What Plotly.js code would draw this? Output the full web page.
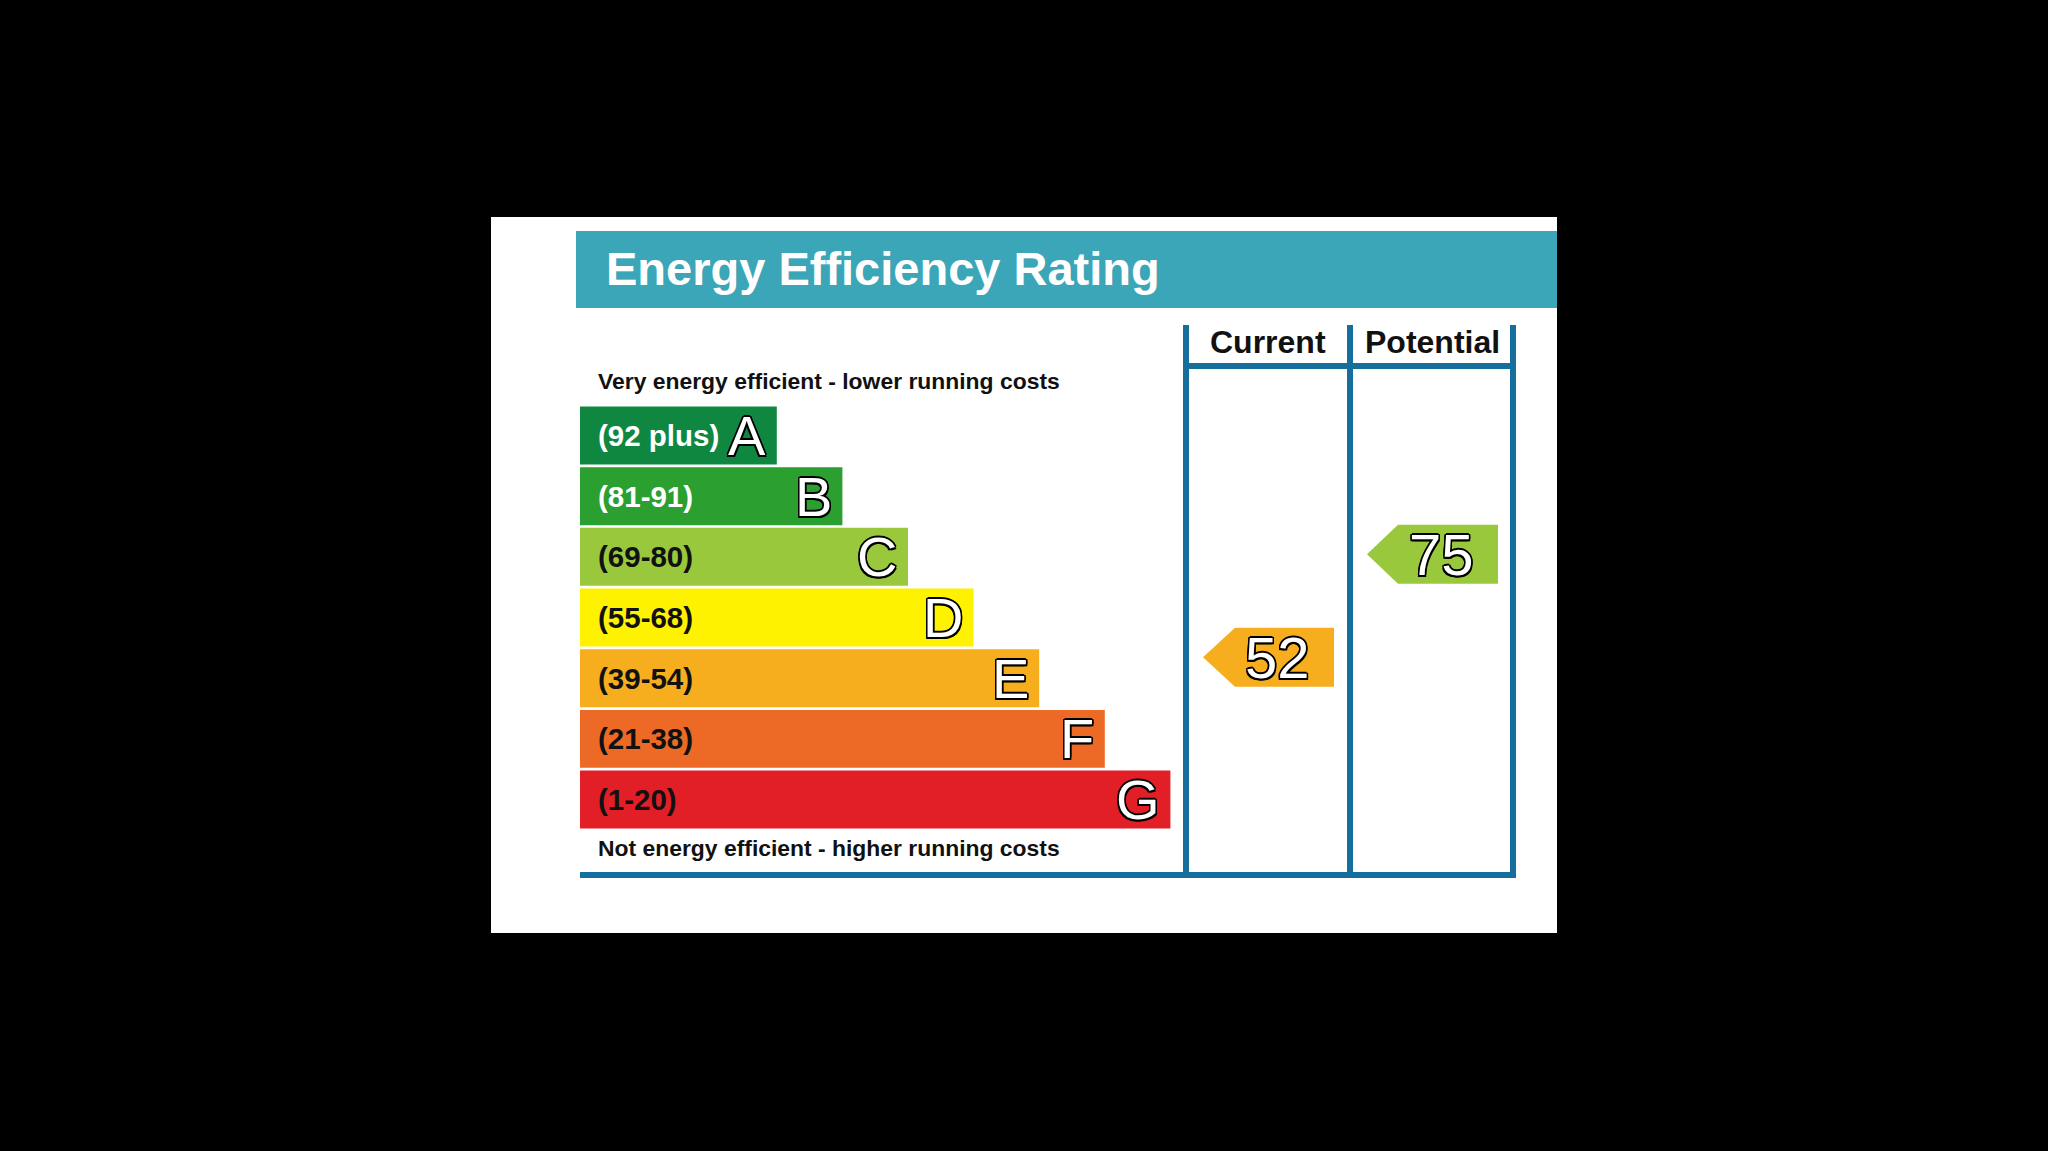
<!DOCTYPE html>
<html>
<head>
<meta charset="utf-8">
<script src="https://cdn.plot.ly/plotly-3.0.1.min.js"></script>
<style>
  html, body { margin: 0; padding: 0; background: #000; }
  #chart { width: 2048px; height: 1151px; }
</style>
</head>
<body>
<div id="chart"></div>
<script>
// ---------------- data ----------------
const categories   = ['A', 'B', 'C', 'D', 'E', 'F', 'G'];
const bandLabels   = ['(92 plus)', '(81-91)', '(69-80)', '(55-68)', '(39-54)', '(21-38)', '(1-20)'];
const bandMin      = [92, 81, 69, 55, 39, 21, 1];
const bandMax      = [100, 91, 80, 68, 54, 38, 20];
const barLength    = [3, 4, 5, 6, 7, 8, 9];
const bandColors   = ['#0f8741', '#2b9f2f', '#9ac83c', '#fff200', '#f6ae1f', '#ec6a25', '#e21e26'];
const labelColors  = ['#ffffff', '#ffffff', '#111111', '#111111', '#111111', '#111111', '#111111'];
const columnHeaders = ['Current', 'Potential'];
const ratings       = [52, 75];
const titleText     = 'Energy Efficiency Rating';
const topNote       = 'Very energy efficient - lower running costs';
const bottomNote    = 'Not energy efficient - higher running costs';

// ---------------- geometry helpers ----------------
const W = 2048, H = 1151;
const X = p => p / W;
const Y = p => 1 - p / H;
const unit = 65.6, x0px = 580;       // x-axis: pixel = x0px + unit * x
const pitch = 60.67, y0px = 435.5;   // y-axis: pixel = y0px + pitch * y
const FONT = 'Liberation Sans, Arial, sans-serif';
const outline = '-1.5px -1.5px 0 #000, 1.5px -1.5px 0 #000, -1.5px 1.5px 0 #000, 1.5px 1.5px 0 #000, 0 -1.6px 0 #000, 0 1.6px 0 #000, -1.6px 0 0 #000, 1.6px 0 0 #000';
const lineCol = '#156e9b';

function bandIndex(v) {
  for (let i = 0; i < bandMin.length; i++) if (v >= bandMin[i] && v <= bandMax[i]) return i;
  return bandMin.length - 1;
}
function yForRating(v) {
  const i = bandIndex(v);
  return i - 0.5 + (bandMax[i] - v + 0.5) / (bandMax[i] - bandMin[i] + 1);
}
const ux = p => (p - x0px) / unit;

// ---------------- traces ----------------
const yIdx = categories.map((c, i) => i);
const traces = [{
  type: 'bar', orientation: 'h',
  x: barLength, y: yIdx, base: 0, width: 0.955,
  marker: { color: bandColors, line: { width: 0 } },
  hoverinfo: 'skip', showlegend: false
}];

// arrow columns: [tip, bodyLeft, bodyRight] in pixels
const arrowCols = [[1203, 1235, 1334], [1367, 1398, 1498]];
const halfH = 0.486;
const annotations = [];

ratings.forEach((v, k) => {
  const yc = yForRating(v);
  const [t, l, r] = arrowCols[k].map(ux);
  traces.push({
    type: 'scatter', mode: 'lines', fill: 'toself',
    x: [t, l, r, r, l, t], y: [yc, yc - halfH, yc - halfH, yc + halfH, yc + halfH, yc],
    fillcolor: bandColors[bandIndex(v)], line: { width: 0 },
    hoverinfo: 'skip', showlegend: false
  });
  annotations.push({
    x: (l + r) / 2 - 0.1, y: yc, xref: 'x', yref: 'y', xanchor: 'center', yanchor: 'middle',
    text: String(v), showarrow: false,
    font: { family: FONT, size: 58, color: '#ffffff', shadow: outline }
  });
});

categories.forEach((c, i) => {
  annotations.push({
    x: ux(596), y: i, xref: 'x', yref: 'y', xanchor: 'left', yanchor: 'middle',
    text: '<b>' + bandLabels[i] + '</b>', showarrow: false,
    font: { family: FONT, size: 29.5, color: labelColors[i] }
  });
  annotations.push({
    x: barLength[i] - 0.13, y: i, xref: 'x', yref: 'y', xanchor: 'right', yanchor: 'middle',
    text: c, showarrow: false,
    font: { family: FONT, size: 56, color: '#ffffff', shadow: outline }
  });
});

// titles and notes
annotations.push({
  x: X(604), y: Y(268.5), xref: 'paper', yref: 'paper', xanchor: 'left', yanchor: 'middle',
  text: '<b>' + titleText + '</b>', showarrow: false,
  font: { family: FONT, size: 47, color: '#ffffff' }
});
annotations.push({
  x: X(596), y: Y(380.5), xref: 'paper', yref: 'paper', xanchor: 'left', yanchor: 'middle',
  text: '<b>' + topNote + '</b>', showarrow: false,
  font: { family: FONT, size: 22.9, color: '#111111' }
});
annotations.push({
  x: X(596), y: Y(848.5), xref: 'paper', yref: 'paper', xanchor: 'left', yanchor: 'middle',
  text: '<b>' + bottomNote + '</b>', showarrow: false,
  font: { family: FONT, size: 22.9, color: '#111111' }
});
const headerCenters = [1268, 1432];
columnHeaders.forEach((h, k) => {
  annotations.push({
    x: X(headerCenters[k]), y: Y(342), xref: 'paper', yref: 'paper', xanchor: 'center', yanchor: 'middle',
    text: '<b>' + h + '</b>', showarrow: false,
    font: { family: FONT, size: 32, color: '#111111' }
  });
});

// ---------------- shapes ----------------
const shapes = [
  { type: 'rect', xref: 'paper', yref: 'paper', x0: X(491), x1: X(1557), y0: Y(933), y1: Y(217),
    fillcolor: '#ffffff', line: { width: 0 }, layer: 'below' },
  { type: 'rect', xref: 'paper', yref: 'paper', x0: X(576), x1: X(1557), y0: Y(308), y1: Y(231),
    fillcolor: '#3ca6b9', line: { width: 0 }, layer: 'below' }
];
const ln = (xa, ya, xb, yb) => ({ type: 'line', xref: 'paper', yref: 'paper',
  x0: X(xa), y0: Y(ya), x1: X(xb), y1: Y(yb), line: { color: lineCol, width: 6 }, layer: 'above' });
shapes.push(ln(580, 875, 1516, 875));
shapes.push(ln(1186, 325, 1186, 878));
shapes.push(ln(1350, 325, 1350, 878));
shapes.push(ln(1513, 325, 1513, 878));
shapes.push(ln(1186, 366, 1513, 366));

const layout = {
  width: W, height: H,
  margin: { l: 0, r: 0, t: 0, b: 0, pad: 0 },
  paper_bgcolor: '#000000', plot_bgcolor: 'rgba(0,0,0,0)',
  xaxis: { range: [ux(0), ux(W)], visible: false, fixedrange: true },
  yaxis: { range: [(H - y0px) / pitch, -y0px / pitch], visible: false, fixedrange: true },
  showlegend: false,
  shapes: shapes,
  annotations: annotations
};

Plotly.newPlot('chart', traces, layout, { displayModeBar: false, staticPlot: true });
</script>
</body>
</html>
